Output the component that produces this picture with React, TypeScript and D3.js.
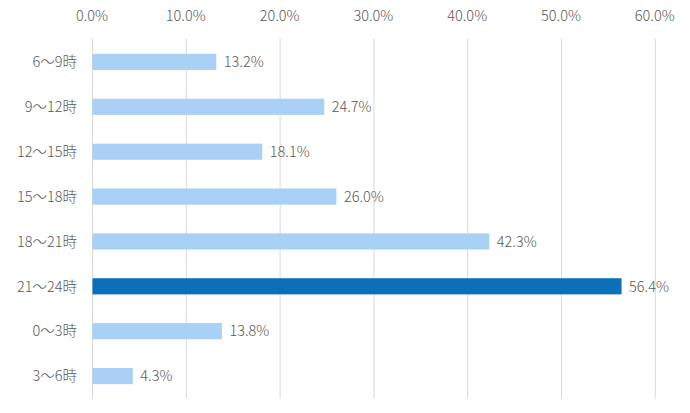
import React, { useEffect, useRef } from "react";
import * as d3 from "d3";

const categories = ["6～9時", "9～12時", "12～15時", "15～18時", "18～21時", "21～24時", "0～3時", "3～6時"];
const values = [13.2, 24.7, 18.1, 26.0, 42.3, 56.4, 13.8, 4.3];
const highlight = "21～24時";
const xTicks = [0, 10, 20, 30, 40, 50, 60];

const width = 690;
const height = 413;
const margin = { top: 39.5, right: 36, bottom: 14.5, left: 92 };

const App: React.FC = () => {
  const svgRef = useRef<SVGSVGElement | null>(null);

  useEffect(() => {
    const svg = d3.select(svgRef.current);
    svg.selectAll("*").remove();

    const font = "'Noto Sans CJK JP', 'Noto Sans', sans-serif";
    const textColor = "#595959";
    const fontSize = 14.5;

    const x = d3
      .scaleLinear()
      .domain([0, 60])
      .range([margin.left, margin.left + 93.8 * 6]);

    const y = d3
      .scaleBand()
      .domain(categories)
      .range([margin.top, height - margin.bottom])
      .paddingInner(0.64)
      .paddingOuter(0.32);

    // vertical grid lines
    svg
      .append("g")
      .selectAll("line")
      .data(xTicks)
      .enter()
      .append("line")
      .attr("x1", (d) => x(d) + 0.5)
      .attr("x2", (d) => x(d) + 0.5)
      .attr("y1", margin.top - 1)
      .attr("y2", height - margin.bottom)
      .attr("stroke", "#d9d9d9")
      .attr("stroke-width", 1);

    // top tick labels
    svg
      .append("g")
      .selectAll("text")
      .data(xTicks)
      .enter()
      .append("text")
      .attr("x", (d) => x(d))
      .attr("y", 21)
      .attr("text-anchor", "middle")
      .attr("font-family", font)
      .attr("font-weight", 300)
      .attr("font-size", fontSize)
      .attr("fill", textColor)
      .text((d) => d.toFixed(1) + "%");

    // bars
    svg
      .append("g")
      .selectAll("rect")
      .data(values)
      .enter()
      .append("rect")
      .attr("x", x(0) + 0.5)
      .attr("y", (_, i) => y(categories[i]) as number)
      .attr("width", (d) => x(d) - x(0))
      .attr("height", y.bandwidth())
      .attr("fill", (_, i) => (categories[i] === highlight ? "#0b6fba" : "#a9d0f5"));

    // value labels
    svg
      .append("g")
      .selectAll("text")
      .data(values)
      .enter()
      .append("text")
      .attr("x", (d) => x(d) + 8)
      .attr("y", (_, i) => (y(categories[i]) as number) + y.bandwidth() / 2)
      .attr("dy", "0.36em")
      .attr("font-family", font)
      .attr("font-weight", 300)
      .attr("font-size", fontSize)
      .attr("fill", textColor)
      .text((d) => d.toFixed(1) + "%");

    // category labels
    svg
      .append("g")
      .selectAll("text")
      .data(categories)
      .enter()
      .append("text")
      .attr("x", 77)
      .attr("y", (d) => (y(d) as number) + y.bandwidth() / 2)
      .attr("dy", "0.36em")
      .attr("text-anchor", "end")
      .attr("font-family", font)
      .attr("font-weight", 300)
      .attr("font-size", fontSize)
      .attr("fill", textColor)
      .text((d) => d);
  }, []);

  return (
    <svg
      ref={svgRef}
      width={width}
      height={height}
      style={{ position: "absolute", left: 0, top: 0, background: "#fff" }}
    ></svg>
  );
};

export default App;
